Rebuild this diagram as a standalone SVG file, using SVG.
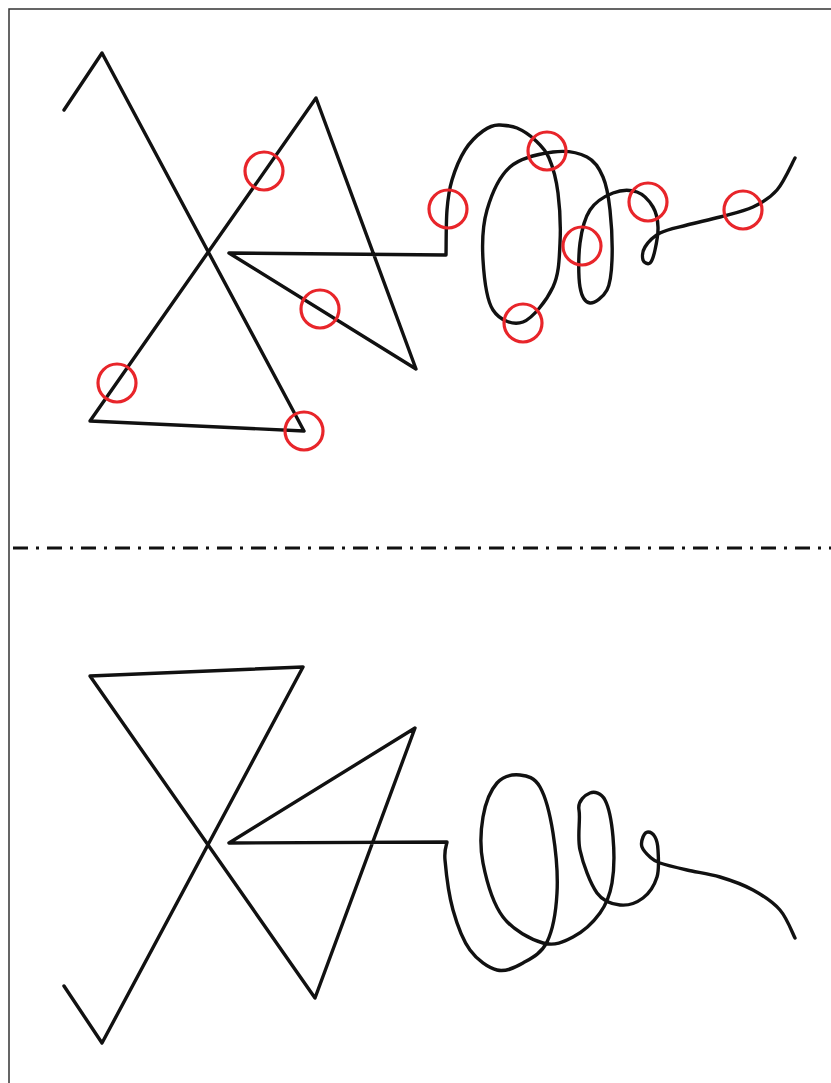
<svg xmlns="http://www.w3.org/2000/svg" width="831" height="1083" viewBox="0 0 831 1083">
<style>
.ink{fill:none;stroke:#111;stroke-width:3.4;stroke-linejoin:round;stroke-linecap:round}
.mark{fill:none;stroke:#e8252a;stroke-width:3.2}
.sep{fill:none;stroke:#111;stroke-width:3;stroke-dasharray:15 8 3 8}
.frame{fill:none;stroke:#333;stroke-width:1.5}
</style>
<rect width="831" height="1083" fill="#fff"/>
<g id="frame"><path class="frame" d="M9,1083 V9 H831"/></g>
<g id="top-sketch">
<path class="ink" d="M64,110 L102,53 L304,431 L90,421 L316,98 L416,369 L229,253 L446,255
C446.2,247.5 446,222.5 447,210
C448,197.5 449,190 452,180
C455,170 459.8,158.2 465,150
C470.2,141.8 477.2,135.2 483,131
C488.8,126.8 494.3,124.5 500,125
C505.7,125.5 511.2,125.5 517,128
C522.8,130.5 529.7,135 535,140
C540.3,145 545.2,149.2 549,158
C552.8,166.8 556.2,178.8 558,193
C559.8,207.2 560.8,227.3 560,243
C559.2,258.7 559.2,273.8 553,287
C546.8,300.2 533,318.2 523,322
C513,325.8 499.7,320.3 493,310
C486.3,299.7 484,276.7 483,260
C482,243.3 482.5,225.5 487,210
C491.5,194.5 499,176.7 510,167
C521,157.3 540.2,153.7 553,152
C565.8,150.3 578.7,152.8 587,157
C595.3,161.2 599.2,168.2 603,177
C606.8,185.8 608.5,196.2 610,210
C611.5,223.8 612.5,246.7 612,260
C611.5,273.3 610.7,282.8 607,290
C603.3,297.2 594.5,303.5 590,303
C585.5,302.5 581.7,297 580,287
C578.3,277 578.3,255.8 580,243
C581.7,230.2 584.5,218.3 590,210
C595.5,201.7 605.2,196 613,193
C620.8,190 630.3,189.7 637,192
C643.7,194.3 649.5,201.2 653,207
C656.5,212.8 657.7,219.8 658,227
C658.3,234.2 656.3,244 655,250
C653.7,256 652,261.3 650,263
C648,264.7 643.8,262.7 643,260
C642.2,257.3 642.2,251.5 645,247
C647.8,242.5 653,236.7 660,233
C667,229.3 677,227.7 687,225
C697,222.3 709,220 720,217
C731,214 743.5,211.5 753,207
C762.5,202.5 770,198.2 777,190
C784,181.8 792,163.3 795,158"/>
</g>
<g id="markers">
<circle class="mark" cx="264" cy="171" r="19"/>
<circle class="mark" cx="448" cy="209" r="19"/>
<circle class="mark" cx="547" cy="151" r="19"/>
<circle class="mark" cx="117" cy="383" r="19"/>
<circle class="mark" cx="320" cy="309" r="19"/>
<circle class="mark" cx="304" cy="431" r="19"/>
<circle class="mark" cx="523" cy="323" r="19"/>
<circle class="mark" cx="582" cy="246" r="19"/>
<circle class="mark" cx="648" cy="202" r="19"/>
<circle class="mark" cx="743" cy="210" r="19"/>
</g>
<g id="separator"><line class="sep" x1="13" y1="548" x2="831" y2="548"/></g>
<g id="bottom-sketch">
<path class="ink" d="M64,986 L102,1043 L303,667 L90,676 L315,998 L415,728 L229,843 L447,842
C446.7,845 444,848.7 445,860
C446,871.3 448.8,895 453,910
C457.2,925 462.7,940 470,950
C477.3,960 488.2,967.8 497,970
C505.8,972.2 514.7,967.7 523,963
C531.3,958.3 541.3,953.7 547,942
C552.7,930.3 556,911.2 557,893
C558,874.8 555.8,850.7 553,833
C550.2,815.3 545.5,796.7 540,787
C534.5,777.3 527.2,775.7 520,775
C512.8,774.3 503.2,776 497,783
C490.8,790 485.3,803.7 483,817
C480.7,830.3 479.7,846.3 483,863
C486.3,879.7 493,903.7 503,917
C513,930.3 531.3,939.7 543,943
C554.7,946.3 563.5,942 573,937
C582.5,932 593.5,922 600,913
C606.5,904 609.8,895.7 612,883
C614.2,870.3 614.2,850.8 613,837
C611.8,823.2 608.8,807.3 605,800
C601.2,792.7 594.3,791.3 590,793
C585.7,794.7 577.3,800.5 579,810
C580.7,819.5 577,836.2 580,850
C583,863.8 590.3,883.8 597,893
C603.7,902.2 612.3,904.2 620,905
C627.7,905.8 636.8,902.7 643,898
C649.2,893.3 654.5,885 657,877
C659.5,869 658.3,856.7 658,850
C657.7,843.3 656.7,840 655,837
C653.3,834 650,832 648,832
C646,832 644,834.5 643,837
C642,839.5 640.8,843.7 642,847
C643.2,850.3 647,854.3 650,857
C653,859.7 653.8,860.8 660,863
C666.2,865.2 677,867.7 687,870
C697,872.3 709,873.7 720,877
C731,880.3 743,884.5 753,890
C763,895.5 773,902 780,910
C787,918 792.5,933.3 795,938"/>
</g>
</svg>
